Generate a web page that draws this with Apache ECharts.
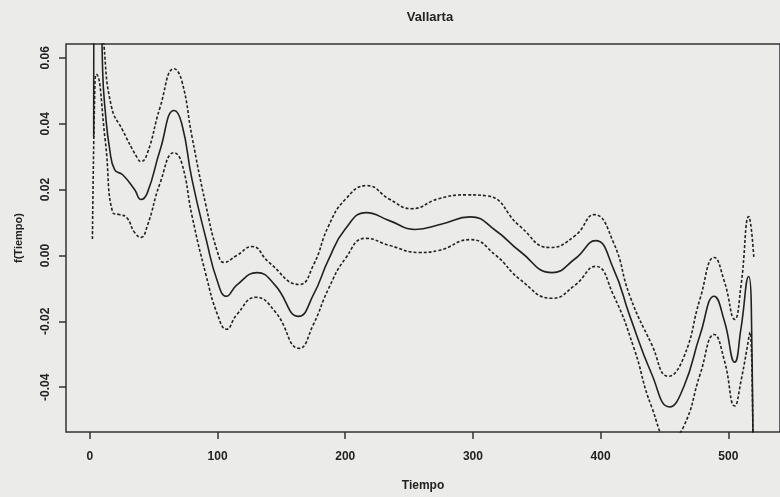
<!DOCTYPE html>
<html>
<head>
<meta charset="utf-8">
<script src="https://cdn.jsdelivr.net/npm/echarts@6/dist/echarts.min.js"></script>
<style>
  html, body { margin: 0; padding: 0; background: #ebebea; }
  #main { width: 780px; height: 497px; }
</style>
</head>
<body>
<div id="main"></div>
<script>
// Vallarta: f(Tiempo) with +/- 2 se bands
const fitX = [3, 4, 8, 10, 12, 15.6, 19.5, 25.7, 35, 40, 45, 55, 66, 72, 80, 91, 100, 107, 115, 131, 145, 163.5, 175, 187, 200, 216.5, 235, 254.7, 275, 298, 318, 337, 362, 380, 396, 410, 423, 440, 454, 465, 478, 489, 497, 505, 510, 516, 518, 520];
const fitY = [0.036, 0.11, 0.10, 0.056, 0.044, 0.032, 0.026, 0.0245, 0.020, 0.017, 0.019, 0.032, 0.044, 0.040, 0.023, 0.005, -0.008, -0.0124, -0.009, -0.0052, -0.009, -0.0185, -0.012, -0.0012, 0.008, 0.013, 0.0105, 0.0079, 0.0095, 0.0117, 0.0075, 0.0012, -0.0052, -0.001, 0.0045, -0.004, -0.0185, -0.036, -0.046, -0.040, -0.024, -0.0124, -0.020, -0.0324, -0.022, -0.0064, -0.015, -0.1];

const upperX = [3, 9, 11, 17, 25.7, 37, 40, 45, 55, 66, 72, 80, 91, 100, 105, 115, 127, 140, 164, 175, 187, 200, 217, 235, 252, 273, 295, 311, 337, 360, 380, 395, 410, 423, 440, 453, 465, 478, 489, 497, 505, 510, 516, 520];
const upperY = [0.2, 0.08, 0.064, 0.045, 0.038, 0.0297, 0.0285, 0.031, 0.045, 0.0567, 0.053, 0.036, 0.015, 0.001, -0.0021, 0.000, 0.0027, -0.002, -0.0088, -0.003, 0.009, 0.017, 0.0212, 0.017, 0.0142, 0.0172, 0.0184, 0.0181, 0.0088, 0.0024, 0.006, 0.0124, 0.004, -0.0124, -0.027, -0.0367, -0.031, -0.013, -0.0006, -0.008, -0.0194, -0.009, 0.0118, -0.0006];

const lowerX = [2, 4, 5, 12, 18, 23, 28.8, 35, 40, 45, 55, 66, 72, 80, 91, 100, 107, 115, 130, 145, 164, 175, 187, 200, 216, 235, 258, 273, 298, 318, 337, 362, 380, 396, 410, 426, 440, 454, 465, 478, 489, 497, 505, 510, 517, 520];
const lowerY = [0.005, 0.053, 0.055, 0.035, 0.013, 0.0124, 0.0115, 0.007, 0.0055, 0.009, 0.022, 0.0312, 0.028, 0.012, -0.006, -0.018, -0.0224, -0.018, -0.0127, -0.017, -0.0282, -0.021, -0.010, -0.001, 0.0052, 0.003, 0.0009, 0.0015, 0.0048, 0.000, -0.0073, -0.013, -0.009, -0.0033, -0.012, -0.028, -0.046, -0.056, -0.052, -0.036, -0.024, -0.032, -0.0457, -0.038, -0.0233, -0.12];

const xTicks = [0, 100, 200, 300, 400, 500];
const yTicks = [-0.04, -0.02, 0, 0.02, 0.04, 0.06];

const zip = (xs, ys) => xs.map((x, i) => [x, ys[i]]);
const font = '"Liberation Sans", Arial, sans-serif';

const chart = echarts.init(document.getElementById('main'));
chart.setOption({
  backgroundColor: '#ebebea',
  animation: false,
  title: {
    text: 'Vallarta',
    left: 425,
    textAlign: 'center',
    top: 6,
    textStyle: { fontFamily: font, fontSize: 13, fontWeight: 'bold', color: '#222' }
  },
  grid: {
    left: 66, top: 44, right: -4, bottom: 64,
    show: true, borderColor: '#333', borderWidth: 1.5, backgroundColor: 'transparent'
  },
  xAxis: {
    type: 'value',
    min: -18.7,
    max: 540.5,
    name: 'Tiempo',
    nameLocation: 'middle',
    nameGap: 48,
    nameTextStyle: { fontFamily: font, fontSize: 12, fontWeight: 'bold', color: '#222' },
    splitLine: { show: false },
    axisLine: { show: false, onZero: false },
    axisTick: { show: true, length: 7, customValues: xTicks, lineStyle: { color: '#333', width: 1.5 } },
    axisLabel: { customValues: xTicks, margin: 19, fontFamily: font, fontSize: 12, fontWeight: 'bold', color: '#222' }
  },
  yAxis: {
    type: 'value',
    min: -0.0536,
    max: 0.0642,
    name: 'f(Tiempo)',
    nameLocation: 'middle',
    nameGap: 42,
    nameTextStyle: { fontFamily: font, fontSize: 11, fontWeight: 'bold', color: '#222' },
    splitLine: { show: false },
    axisLine: { show: false, onZero: false },
    axisTick: { show: true, length: 7, customValues: yTicks, lineStyle: { color: '#333', width: 1.5 } },
    axisLabel: {
      customValues: yTicks, rotate: 90, margin: 14,
      fontFamily: font, fontSize: 12, fontWeight: 'bold', color: '#222',
      formatter: v => v.toFixed(2)
    }
  },
  series: [
    {
      name: 'fit', type: 'line', data: zip(fitX, fitY), showSymbol: false,
      smooth: 0.5, clip: true,
      lineStyle: { color: '#222', width: 1.6 }
    },
    {
      name: 'upper', type: 'line', data: zip(upperX, upperY), showSymbol: false,
      smooth: 0.5, clip: true,
      lineStyle: { color: '#222', width: 1.6, type: [3, 2] }
    },
    {
      name: 'lower', type: 'line', data: zip(lowerX, lowerY), showSymbol: false,
      smooth: 0.5, clip: true,
      lineStyle: { color: '#222', width: 1.6, type: [3, 2] }
    }
  ]
});
</script>
</body>
</html>
